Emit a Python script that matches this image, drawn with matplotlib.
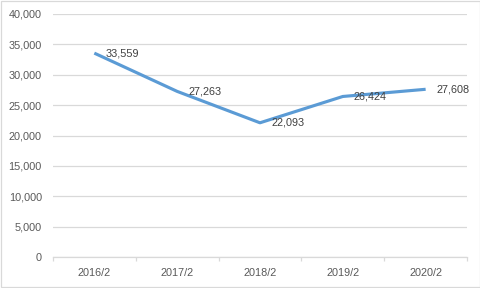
import matplotlib
matplotlib.use("Agg")
import matplotlib.pyplot as plt
from matplotlib.ticker import FuncFormatter, FixedLocator
from matplotlib.patches import Rectangle

categories = ["2016/2", "2017/2", "2018/2", "2019/2", "2020/2"]
values = [33559, 27263, 22093, 26424, 27608]
y_ticks = [0, 5000, 10000, 15000, 20000, 25000, 30000, 35000, 40000]

plt.rcParams["font.family"] = ["Liberation Sans", "DejaVu Sans"]

fig = plt.figure(figsize=(4.81, 2.88), dpi=100)
ax = fig.add_axes([0.110, 0.1076, 0.861, 0.8438])

x = list(range(len(categories)))
ax.plot(x, values, color="#5B9BD5", linewidth=2.25, solid_capstyle="butt")

for xi, v in zip(x, values):
    ax.annotate(f"{v:,}", (xi, v), xytext=(8, 0), textcoords="offset points",
                ha="left", va="center", fontsize=7.8, color="#404040")

ax.set_xlim(-0.5, len(categories) - 0.5)
ax.set_ylim(0, 40000)
ax.set_yticks(y_ticks)
ax.yaxis.set_major_formatter(FuncFormatter(lambda v, p: f"{int(v):,}"))
ax.set_xticks(x)
ax.set_xticklabels(categories)
ax.xaxis.set_minor_locator(FixedLocator([i - 0.5 for i in range(len(categories) + 1)]))

ax.grid(axis="y", color="#D9D9D9", linewidth=0.9)
ax.set_axisbelow(True)
for s in ["top", "right", "left"]:
    ax.spines[s].set_visible(False)
ax.spines["bottom"].set_color("#D9D9D9")
ax.spines["bottom"].set_linewidth(0.9)

ax.tick_params(axis="y", length=0, pad=8, labelsize=7.8, labelcolor="#595959")
ax.tick_params(axis="x", which="major", length=0, pad=8, labelsize=7.8, labelcolor="#595959")
ax.tick_params(axis="x", which="minor", length=3, width=0.9, color="#D9D9D9")

fig.patches.append(Rectangle((0.002, 0.003), 0.995, 0.994, transform=fig.transFigure,
                             fill=False, edgecolor="#D9D9D9", linewidth=0.9))

fig.savefig("out.png", dpi=100)
